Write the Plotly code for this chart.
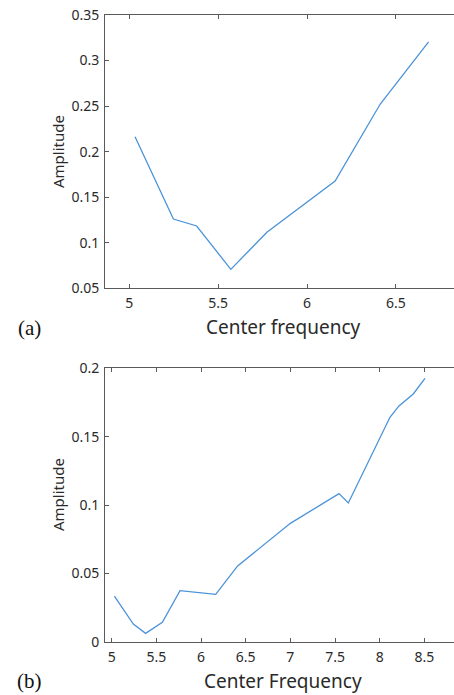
import plotly.graph_objects as go

# Panel (a)
freq_a = [5.032, 5.248, 5.379, 5.571, 5.774, 6.158, 6.412, 6.684]
amp_a = [0.2164, 0.1260, 0.1184, 0.0708, 0.1115, 0.1678, 0.2523, 0.3204]
xticks_a = [5, 5.5, 6, 6.5]
xtext_a = ["5", "5.5", "6", "6.5"]
yticks_a = [0.05, 0.1, 0.15, 0.2, 0.25, 0.3, 0.35]
ytext_a = ["0.05", "0.1", "0.15", "0.2", "0.25", "0.3", "0.35"]

# Panel (b)
freq_b = [5.03, 5.242, 5.38, 5.567, 5.765, 6.164, 6.41, 6.70, 7.0, 7.545,
          7.649, 8.115, 8.216, 8.376, 8.507]
amp_b = [0.0334, 0.0129, 0.0061, 0.0142, 0.0373, 0.0346, 0.0554, 0.0707,
         0.0866, 0.1083, 0.1015, 0.1642, 0.1725, 0.1812, 0.1927]
xticks_b = [5, 5.5, 6, 6.5, 7, 7.5, 8, 8.5]
xtext_b = ["5", "5.5", "6", "6.5", "7", "7.5", "8", "8.5"]
yticks_b = [0, 0.05, 0.1, 0.15, 0.2]
ytext_b = ["0", "0.05", "0.1", "0.15", "0.2"]

W, H = 454, 695
LINE = "#4b93d8"
AX = "#5a5a5a"
TXT = "#2a2a2a"
FONT = "Noto Sans"

fig = go.Figure()
fig.add_trace(go.Scatter(x=freq_a, y=amp_a, mode="lines", line=dict(color=LINE, width=1.3),
                         xaxis="x", yaxis="y", showlegend=False))
fig.add_trace(go.Scatter(x=freq_b, y=amp_b, mode="lines", line=dict(color=LINE, width=1.3),
                         xaxis="x2", yaxis="y2", showlegend=False))

def xax(domain, rng, tv, tt, anchor, standoff):
    return dict(domain=domain, range=rng, tickvals=tv, ticktext=tt, anchor=anchor,
                showline=True, linecolor=AX, linewidth=1, mirror="ticks",
                ticks="inside", ticklen=4, tickcolor=AX, showgrid=False, zeroline=False,
                ticklabelstandoff=standoff,
                tickfont=dict(family=FONT, size=14, color=TXT))

def yax(domain, rng, tv, tt, anchor):
    return dict(domain=domain, range=rng, tickvals=tv, ticktext=tt, anchor=anchor,
                showline=True, linecolor=AX, linewidth=1, mirror=False,
                ticks="inside", ticklen=4, tickcolor=AX, showgrid=False, zeroline=False,
                ticklabelstandoff=2,
                tickfont=dict(family=FONT, size=14, color=TXT))

xd = [105 / W, 1.0]
yda = [1 - 288.3 / H, 1 - 15 / H]
ydb = [1 - 641.7 / H, 1 - 368.3 / H]

fig.update_layout(
    width=W, height=H, margin=dict(l=0, r=0, t=0, b=0, autoexpand=False),
    paper_bgcolor="white", plot_bgcolor="white",
    xaxis=xax(xd, [4.863, 6.827], xticks_a, xtext_a, "y", 2),
    yaxis=yax(yda, [0.05, 0.35], yticks_a, ytext_a, "x"),
    xaxis2=xax(xd, [4.925, 8.832], xticks_b, xtext_b, "y2", 2),
    yaxis2=yax(ydb, [0, 0.2], yticks_b, ytext_b, "x2"),
)

def ann(text, x, y, size, family=FONT, angle=0, color=TXT):
    fig.add_annotation(text=text, x=x / W, y=1 - y / H, xref="paper", yref="paper",
                       showarrow=False, textangle=angle, xanchor="center", yanchor="middle",
                       font=dict(family=family, size=size, color=color))

ann("Center frequency", 283, 327, 19)
ann("Amplitude", 58, 152, 15, angle=-90)
ann("(a)", 29, 328, 21, family="Liberation Serif", color="#111111")
ann("Center Frequency", 283, 681, 19)
ann("Amplitude", 58, 495, 15, angle=-90)
ann("(b)", 29, 681, 21, family="Liberation Serif", color="#111111")

fig.write_html("out.html", config={"displayModeBar": False},
               post_script="document.body.style.margin='0';document.body.style.overflow='hidden';")
